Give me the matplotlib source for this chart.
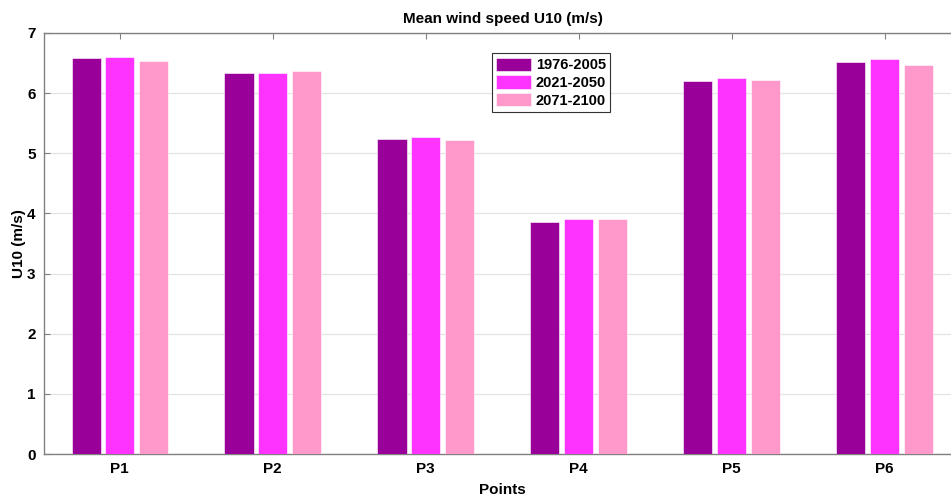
import numpy as np
import matplotlib
matplotlib.use("Agg")
import matplotlib.pyplot as plt

plt.rcParams['font.family'] = ['Liberation Sans', 'DejaVu Sans']
plt.rcParams['font.weight'] = 'bold'

points = ['P1', 'P2', 'P3', 'P4', 'P5', 'P6']
periods = ['1976-2005', '2021-2050', '2071-2100']
u10_1976 = [6.58, 6.34, 5.23, 3.85, 6.21, 6.52]
u10_2021 = [6.60, 6.33, 5.27, 3.90, 6.26, 6.57]
u10_2071 = [6.54, 6.37, 5.22, 3.90, 6.22, 6.46]
colors = ['#990099', '#ff33ff', '#ff99cc']

fig = plt.figure(figsize=(9.51, 4.97), dpi=100)
# axis runs a bit past the right edge like in the original
ax = fig.add_axes([44/951, 1 - 454/497, 917/951, 421/497])

x = np.arange(1, len(points) + 1)
series = [u10_1976, u10_2021, u10_2071]
offs = [-0.22, 0.0, 0.22]
for vals, off, col, lab in zip(series, offs, colors, periods):
    ax.bar(x + off, vals, width=0.19, color=col, edgecolor='#ffffff',
           linewidth=0.4, label=lab, zorder=3)

ax.set_xlim(0.505, 6.5)
ax.set_ylim(0, 7)
ax.set_xticks(x)
ax.set_xticklabels(points)
ax.set_yticks(range(0, 8))
ax.grid(axis='y', color='#e3e3e3', linewidth=0.9, zorder=0)
ax.tick_params(direction='in', top=True, right=True, length=4, color='#808080',
               labelsize=11, pad=6)
for sp in ax.spines.values():
    sp.set_color('#808080')
    sp.set_linewidth(1)

ax.set_title('Mean wind speed U10 (m/s)', fontsize=11, fontweight='bold', pad=7)
ax.set_xlabel('Points', fontsize=11, fontweight='bold', labelpad=5)
ax.set_ylabel('U10 (m/s)', fontsize=11, fontweight='bold', labelpad=1)

leg = ax.legend(loc='upper left', bbox_to_anchor=(0.4886, 0.952), fontsize=10.5,
                fancybox=False, framealpha=1, edgecolor='#333333',
                handlelength=2.4, handleheight=1.05, borderpad=0.3,
                labelspacing=0.2, handletextpad=0.3, borderaxespad=0)
leg.get_frame().set_linewidth(0.8)

fig.savefig('out.png', dpi=100)
